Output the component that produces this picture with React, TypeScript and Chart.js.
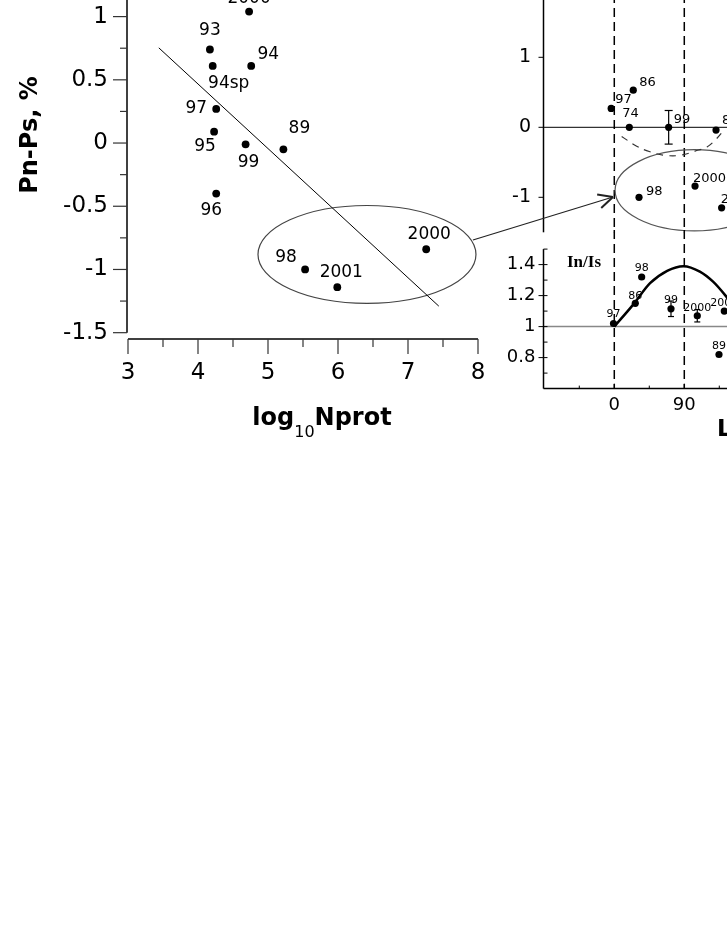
import React, { useEffect, useRef } from "react";
import { Chart, registerables } from "chart.js";
Chart.register(...registerables);

const SANS = "'DejaVu Sans', sans-serif";

// ---------- Left panel: Pn-Ps (%) vs log10 Nprot ----------
const leftNames = ["2000", "93", "94sp", "94", "97", "95", "99", "89", "96", "98", "2001", "2000"];
const leftLogN = [4.73, 4.17, 4.21, 4.76, 4.26, 4.23, 4.68, 5.22, 4.26, 5.53, 5.99, 7.26];
const leftPnPs = [1.04, 0.74, 0.61, 0.61, 0.27, 0.09, -0.01, -0.05, -0.4, -1.0, -1.14, -0.84];
const leftLabelOffsets = [
  [0, -13], [0, -19], [16, 18], [17, -11], [-20, 0], [-9, 15],
  [3, 18], [16, -21], [-5, 17], [-19, -12], [4, -15], [3, -15],
];
const fitLogN = [3.44, 7.44];
const fitPnPs = [0.753, -1.29];
const leftXTicks = [3, 4, 5, 6, 7, 8];
const leftXMinor = [3.5, 4.5, 5.5, 6.5, 7.5];
const leftYTicks = [-1.5, -1, -0.5, 0, 0.5, 1];
const leftYMinor = [-1.25, -0.75, -0.25, 0.25, 0.75];
const leftEllipse = [6.414, -0.881, 1.557, 0.387]; // cx, cy, rx, ry (data units)

// ---------- Top-right panel: Pn-Ps vs L ----------
const topNames = ["97", "86", "74", "99", "89", "98", "2000", "2001"];
const topL = [-4, 24.4, 19.3, 69.9, 130.8, 31.8, 103.8, 138];
const topPnPs = [0.27, 0.53, 0, 0, -0.04, -1.0, -0.84, -1.15];
const topErr = [0, 0, 0, 0.24, 0, 0, 0, 0];
const topLabelOffsets = [[4, -9], [6, -8], [-7, -14], [5, -8], [6, -9], [7, -6], [-2, -7], [-1, -8]];
const dashL = [9.5, 28.8, 45.9, 65.2, 84.5, 103.8, 119.2, 130.8, 142.5];
const dashV = [-0.13, -0.27, -0.35, -0.4, -0.4, -0.34, -0.28, -0.17, -0.02];
const topYTicks = [-1, 0, 1];
const topEllipse = [103, -0.9, 102, 0.58];
const arrowFrom = [-181.7, -1.61];
const arrowTo = [-1.7, -0.996];
const markerL = [0, 90];

// ---------- Bottom-right panel: In/Is vs L ----------
const botNames = ["97", "86", "98", "99", "2000", "2001", "89"];
const botL = [-1, 27, 35.2, 72.9, 106.7, 141.4, 134.6];
const botRatio = [1.02, 1.15, 1.32, 1.115, 1.07, 1.1, 0.82];
const botErr = [0, 0, 0, 0.05, 0.04, 0, 0];
const botLabelDy = [-9, -7, -9, -9, -8, -8, -8];
const curveL = [0, 24, 46, 68, 89, 110, 127, 143, 146];
const curveR = [1.0, 1.14, 1.28, 1.36, 1.39, 1.355, 1.29, 1.2, 1.18];
const botXTicks = [0, 90, 180];
const botXMinor = [-45, 45, 135];
const botYTicks = [0.8, 1, 1.2, 1.4];
const botYMinor = [0.7, 0.9, 1.1, 1.3, 1.5];

type Ctx = CanvasRenderingContext2D;
function seg(ctx: Ctx, x1: number, y1: number, x2: number, y2: number) {
  ctx.beginPath();
  ctx.moveTo(x1, y1);
  ctx.lineTo(x2, y2);
  ctx.stroke();
}
const fixedTicks = (values: number[]) => (s: any) => {
  s.ticks = values.map((v) => ({ value: v }));
};
const zeroPad = (s: any) => {
  s.paddingTop = 0;
  s.paddingBottom = 0;
  s.paddingLeft = 0;
  s.paddingRight = 0;
};
const fitW = (w: number) => (s: any) => { s.width = w; zeroPad(s); };
const fitH = (h: number) => (s: any) => { s.height = h; zeroPad(s); };

function drawEllipse(ctx: Ctx, x: any, y: any, e: number[]) {
  const cx = x.getPixelForValue(e[0]);
  const cy = y.getPixelForValue(e[1]);
  const rx = Math.abs(x.getPixelForValue(e[0] + e[2]) - cx);
  const ry = Math.abs(y.getPixelForValue(e[1] + e[3]) - cy);
  ctx.beginPath();
  ctx.ellipse(cx, cy, rx, ry, 0, 0, Math.PI * 2);
  ctx.stroke();
}
function errBars(ctx: Ctx, meta: any, y: any, vals: number[], errs: number[], cap: number) {
  meta.data.forEach((pt: any, i: number) => {
    if (!errs[i]) return;
    const t = y.getPixelForValue(vals[i] + errs[i]);
    const b = y.getPixelForValue(vals[i] - errs[i]);
    seg(ctx, pt.x, t, pt.x, b);
    seg(ctx, pt.x - cap, t, pt.x + cap, t);
    seg(ctx, pt.x - cap, b, pt.x + cap, b);
  });
}

const noGrid = { display: false, drawTicks: false };
const noBorder = { display: false };
const baseOpts = {
  responsive: false,
  animation: false as const,
  events: [] as any[],
  plugins: { legend: { display: false }, tooltip: { enabled: false } },
};

// ---------- plugins ----------
const leftDecor = {
  id: "leftDecor",
  beforeDatasetsDraw(chart: any) {
    const { ctx, scales: { x, y } } = chart;
    ctx.save();
    ctx.strokeStyle = "#444";
    ctx.lineWidth = 1.2;
    drawEllipse(ctx, x, y, leftEllipse);
    ctx.restore();
  },
  afterDraw(chart: any) {
    const { ctx, chartArea: a, scales: { x, y } } = chart;
    ctx.save();
    ctx.strokeStyle = "#000";
    ctx.lineWidth = 1.5;
    const ax = a.left - 1;
    seg(ctx, ax, y.getPixelForValue(-1.5), ax, 0);
    seg(ctx, x.getPixelForValue(3), a.bottom, x.getPixelForValue(8), a.bottom);
    ctx.lineWidth = 1.2;
    ctx.strokeStyle = "#333";
    leftYTicks.forEach((v) => { const p = y.getPixelForValue(v); seg(ctx, ax - 14, p, ax, p); });
    leftYMinor.forEach((v) => { const p = y.getPixelForValue(v); seg(ctx, ax - 7, p, ax, p); });
    leftXTicks.forEach((v) => { const p = x.getPixelForValue(v); seg(ctx, p, a.bottom, p, a.bottom + 15); });
    leftXMinor.forEach((v) => { const p = x.getPixelForValue(v); seg(ctx, p, a.bottom, p, a.bottom + 8); });

    ctx.fillStyle = "#000";
    ctx.font = `17px ${SANS}`;
    ctx.textAlign = "center";
    ctx.textBaseline = "middle";
    chart.getDatasetMeta(0).data.forEach((pt: any, i: number) => {
      const o = leftLabelOffsets[i];
      ctx.fillText(leftNames[i], pt.x + o[0], pt.y + o[1]);
    });

    // y title
    ctx.save();
    ctx.translate(37, 175);
    ctx.rotate(-Math.PI / 2);
    ctx.font = `bold 24px ${SANS}`;
    ctx.textAlign = "center";
    ctx.textBaseline = "alphabetic";
    ctx.fillText("Pn-Ps, %", 0, 0);
    ctx.restore();

    // x title with subscript
    const big = `bold 24px ${SANS}`;
    const small = `16px ${SANS}`;
    ctx.textAlign = "left";
    ctx.textBaseline = "alphabetic";
    ctx.font = big;
    const w1 = ctx.measureText("log").width;
    const w3 = ctx.measureText("Nprot").width;
    ctx.font = small;
    const w2 = ctx.measureText("10").width;
    let sx = 322 - (w1 + w2 + w3) / 2;
    ctx.font = big;
    ctx.fillText("log", sx, 465);
    sx += w1;
    ctx.font = small;
    ctx.fillText("10", sx, 477);
    sx += w2;
    ctx.font = big;
    ctx.fillText("Nprot", sx, 465);
    ctx.restore();
  },
};

const topDecor = {
  id: "topDecor",
  beforeDatasetsDraw(chart: any) {
    const { ctx, chartArea: a, scales: { x, y } } = chart;
    ctx.save();
    ctx.strokeStyle = "#000";
    ctx.lineWidth = 1;
    const y0 = y.getPixelForValue(0);
    seg(ctx, a.left, y0, a.right, y0);
    ctx.lineWidth = 1.5;
    ctx.setLineDash([9, 5]);
    markerL.forEach((v) => { const p = x.getPixelForValue(v); seg(ctx, p, 0, p, a.bottom); });
    ctx.setLineDash([]);
    ctx.strokeStyle = "#555";
    ctx.lineWidth = 1.2;
    drawEllipse(ctx, x, y, topEllipse);
    ctx.restore();
  },
  afterDraw(chart: any) {
    const { ctx, chartArea: a, scales: { x, y } } = chart;
    ctx.save();
    ctx.strokeStyle = "#000";
    ctx.lineWidth = 1.5;
    seg(ctx, a.left, 0, a.left, a.bottom);
    ctx.lineWidth = 1;
    topYTicks.forEach((v) => { const p = y.getPixelForValue(v); seg(ctx, a.left - 5, p, a.left, p); });
    ctx.lineWidth = 1.2;
    errBars(ctx, chart.getDatasetMeta(1), y, topPnPs, topErr, 4);

    ctx.fillStyle = "#000";
    ctx.font = `13px ${SANS}`;
    ctx.textAlign = "left";
    ctx.textBaseline = "middle";
    chart.getDatasetMeta(1).data.forEach((pt: any, i: number) => {
      const o = topLabelOffsets[i];
      ctx.fillText(topNames[i], pt.x + o[0], pt.y + o[1]);
    });

    // arrow from the left-panel ellipse
    const x1 = x.getPixelForValue(arrowFrom[0]);
    const y1 = y.getPixelForValue(arrowFrom[1]);
    const x2 = x.getPixelForValue(arrowTo[0]);
    const y2 = y.getPixelForValue(arrowTo[1]);
    ctx.strokeStyle = "#222";
    ctx.lineWidth = 1.2;
    seg(ctx, x1, y1, x2, y2);
    const ang = Math.atan2(y1 - y2, x1 - x2);
    ctx.lineWidth = 2;
    [-0.45, 0.45].forEach((d) => seg(ctx, x2, y2, x2 + 16 * Math.cos(ang + d), y2 + 16 * Math.sin(ang + d)));
    ctx.restore();
  },
};

const botDecor = {
  id: "botDecor",
  beforeDatasetsDraw(chart: any) {
    const { ctx, chartArea: a, scales: { x, y } } = chart;
    ctx.save();
    ctx.strokeStyle = "#888";
    ctx.lineWidth = 1.5;
    const y1 = y.getPixelForValue(1);
    seg(ctx, a.left, y1, a.right, y1);
    ctx.strokeStyle = "#000";
    ctx.setLineDash([9, 5]);
    markerL.forEach((v) => { const p = x.getPixelForValue(v); seg(ctx, p, 0, p, a.bottom); });
    ctx.setLineDash([]);
    ctx.restore();
  },
  afterDraw(chart: any) {
    const { ctx, chartArea: a, scales: { x, y } } = chart;
    ctx.save();
    ctx.strokeStyle = "#000";
    ctx.lineWidth = 1.5;
    seg(ctx, a.left, a.top, a.left, a.bottom);
    seg(ctx, a.left, a.bottom, a.right, a.bottom);
    ctx.lineWidth = 1;
    botYTicks.forEach((v) => { const p = y.getPixelForValue(v); seg(ctx, a.left - 5, p, a.left + 4, p); });
    botYMinor.forEach((v) => { const p = y.getPixelForValue(v); seg(ctx, a.left, p, a.left + 4, p); });
    botXTicks.forEach((v) => { const p = x.getPixelForValue(v); seg(ctx, p, a.bottom, p, a.bottom - 5); });
    botXMinor.forEach((v) => { const p = x.getPixelForValue(v); seg(ctx, p, a.bottom, p, a.bottom - 3); });
    ctx.lineWidth = 1.2;
    errBars(ctx, chart.getDatasetMeta(1), y, botRatio, botErr, 3);

    ctx.fillStyle = "#000";
    ctx.font = `11px ${SANS}`;
    ctx.textAlign = "center";
    ctx.textBaseline = "middle";
    chart.getDatasetMeta(1).data.forEach((pt: any, i: number) => {
      ctx.fillText(botNames[i], pt.x, pt.y + botLabelDy[i]);
    });

    ctx.font = "bold 17px 'Liberation Serif', serif";
    ctx.fillText("In/Is", 124, 33);

    ctx.font = `bold 23px ${SANS}`;
    ctx.textAlign = "left";
    ctx.textBaseline = "alphabetic";
    ctx.fillText("L, deg", 257, 206);
    ctx.restore();
  },
};

// ---------- configs ----------
function leftConfig(): any {
  return {
    type: "scatter",
    data: {
      datasets: [
        {
          data: leftLogN.map((x, i) => ({ x, y: leftPnPs[i] })),
          pointRadius: 3.9,
          pointBackgroundColor: "#000",
          pointBorderColor: "#000",
          pointBorderWidth: 0,
        },
        {
          data: fitLogN.map((x, i) => ({ x, y: fitPnPs[i] })),
          showLine: true,
          pointRadius: 0,
          borderColor: "#000",
          borderWidth: 1,
        },
      ],
    },
    options: {
      ...baseOpts,
      layout: { autoPadding: false, padding: { left: 0, top: 25, right: 22, bottom: 0 } },
      scales: {
        x: {
          type: "linear", min: 3, max: 8,
          afterBuildTicks: fixedTicks(leftXTicks),
          afterFit: fitH(101),
          grid: noGrid, border: noBorder,
          ticks: { padding: 20, color: "#000", font: { size: 23 }, autoSkip: false, maxRotation: 0, callback: (v: any) => String(v) },
        },
        y: {
          type: "linear", min: -1.55, max: 1.25,
          afterBuildTicks: fixedTicks(leftYTicks),
          afterFit: fitW(128),
          grid: noGrid, border: noBorder,
          ticks: { padding: 20, color: "#000", font: { size: 23 }, autoSkip: false, callback: (v: any) => String(v) },
        },
      },
    },
    plugins: [leftDecor],
  };
}

function topConfig(): any {
  return {
    type: "scatter",
    data: {
      datasets: [
        {
          data: dashL.map((x, i) => ({ x, y: dashV[i] })),
          showLine: true,
          pointRadius: 0,
          borderColor: "#333",
          borderWidth: 1.2,
          borderDash: [7, 6],
          tension: 0.4,
        },
        {
          data: topL.map((x, i) => ({ x, y: topPnPs[i] })),
          pointRadius: 3.6,
          pointBackgroundColor: "#000",
          pointBorderColor: "#000",
          pointBorderWidth: 0,
        },
      ],
    },
    options: {
      ...baseOpts,
      layout: { autoPadding: false, padding: { left: 0, top: 15, right: 25.7, bottom: 17.7 } },
      scales: {
        x: { type: "linear", min: -91, max: 180, display: false },
        y: {
          type: "linear", min: -1.5, max: 1.89,
          afterBuildTicks: fixedTicks(topYTicks),
          afterFit: fitW(83.5),
          grid: noGrid, border: noBorder,
          ticks: { padding: 12.5, color: "#000", font: { size: 19 }, autoSkip: false, callback: (v: any) => String(v) },
        },
      },
    },
    plugins: [topDecor],
  };
}

function botConfig(): any {
  return {
    type: "scatter",
    data: {
      datasets: [
        {
          data: curveL.map((x, i) => ({ x, y: curveR[i] })),
          showLine: true,
          pointRadius: 0,
          borderColor: "#000",
          borderWidth: 2.5,
          cubicInterpolationMode: "monotone",
        },
        {
          data: botL.map((x, i) => ({ x, y: botRatio[i] })),
          pointRadius: 3.6,
          pointBackgroundColor: "#000",
          pointBorderColor: "#000",
          pointBorderWidth: 0,
        },
      ],
    },
    options: {
      ...baseOpts,
      layout: { autoPadding: false, padding: { left: 0, top: 19.1, right: 25.7, bottom: 0 } },
      scales: {
        x: {
          type: "linear", min: -91, max: 180,
          afterBuildTicks: fixedTicks(botXTicks),
          afterFit: fitH(56.4),
          grid: noGrid, border: noBorder,
          ticks: { padding: 5.6, color: "#000", font: { size: 18 }, autoSkip: false, maxRotation: 0, callback: (v: any) => String(v) },
        },
        y: {
          type: "linear", min: 0.6, max: 1.5,
          afterBuildTicks: fixedTicks(botYTicks),
          afterFit: fitW(83.5),
          grid: noGrid, border: noBorder,
          ticks: { padding: 8, color: "#000", font: { size: 18 }, autoSkip: false, callback: (v: any) => String(v) },
        },
      },
    },
    plugins: [botDecor],
  };
}

export default function App() {
  const r1 = useRef<HTMLCanvasElement>(null);
  const r2 = useRef<HTMLCanvasElement>(null);
  const r3 = useRef<HTMLCanvasElement>(null);
  useEffect(() => {
    Chart.defaults.font.family = SANS;
    const charts = [
      new Chart(r1.current!, leftConfig()),
      new Chart(r2.current!, topConfig()),
      new Chart(r3.current!, botConfig()),
    ];
    return () => charts.forEach((c) => c.destroy());
  }, []);
  return (
    <div style={{ position: "fixed", left: 0, top: 0, width: 727, height: 940, overflow: "hidden", background: "#fff" }}>
      <canvas ref={r1} width={500} height={480} style={{ position: "absolute", left: 0, top: -40 }} />
      <canvas ref={r2} width={320} height={270} style={{ position: "absolute", left: 460, top: -20 }} />
      <canvas ref={r3} width={320} height={215} style={{ position: "absolute", left: 460, top: 230 }} />
    </div>
  );
}
